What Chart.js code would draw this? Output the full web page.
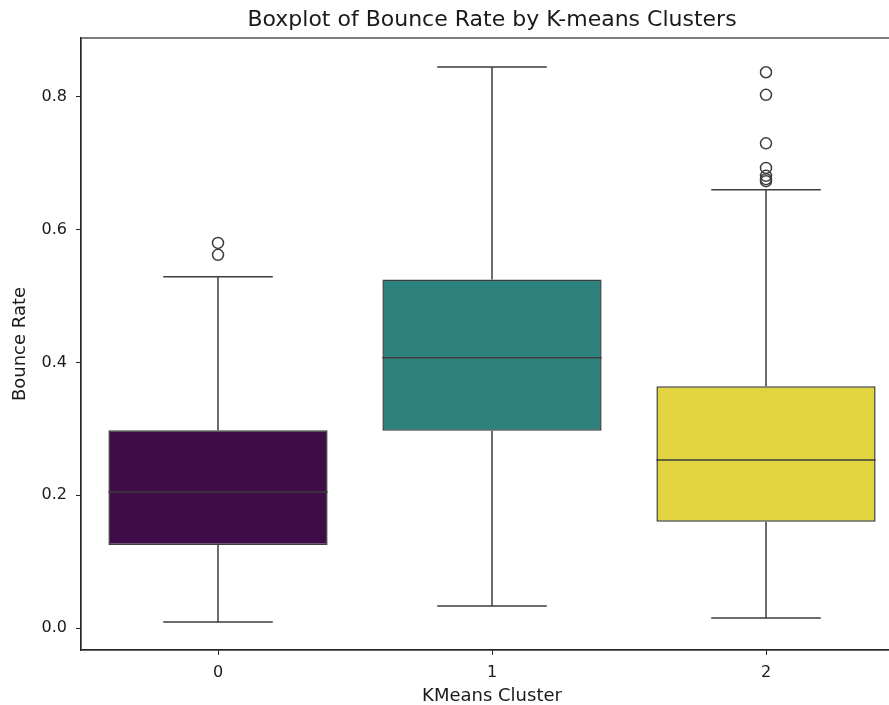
<!DOCTYPE html>
<html>
<head>
<meta charset="utf-8">
<script src="https://cdn.jsdelivr.net/npm/chart.js@4/dist/chart.umd.min.js"></script>
<style>
  html, body { margin: 0; padding: 0; background: #fff; overflow: hidden; }
  #wrap { width: 984px; height: 705px; }
</style>
</head>
<body>
<div id="wrap"><canvas id="c" width="984" height="705"></canvas></div>
<script>
// Bounce rate distribution per K-means cluster (box plot summary statistics)
const clusters = ['0', '1', '2'];
const q1 = [0.125, 0.297, 0.160];
const median = [0.205, 0.407, 0.253];
const q3 = [0.298, 0.525, 0.364];
const whiskerLow = [0.009, 0.033, 0.015];
const whiskerHigh = [0.529, 0.845, 0.660];
const outliers0 = [0.580, 0.562];
const outliers1 = [];
const outliers2 = [0.837, 0.803, 0.730, 0.693, 0.681, 0.676, 0.673];
const yTicks = [0.0, 0.2, 0.4, 0.6, 0.8];

const boxColors = ['#3f0c48', '#2e827e', '#e2d340'];
const lineColor = '#3d3d3d';
const axisColor = '#262626';
const fontFamily = "'DejaVu Sans', sans-serif";

const outlierPoints = [];
[outliers0, outliers1, outliers2].forEach((list, i) => {
  list.forEach(v => outlierPoints.push({ x: clusters[i], y: v }));
});

// whiskers, caps, medians and the frame drawn through the chart's scales
const boxExtras = {
  id: 'boxExtras',
  beforeDatasetsDraw(chart) {
    const { ctx, scales: { x, y } } = chart;
    const meta = chart.getDatasetMeta(0);
    ctx.save();
    ctx.strokeStyle = lineColor;
    ctx.lineWidth = 1.5;
    clusters.forEach((c, i) => {
      const cx = x.getPixelForValue(i);
      const half = meta.data[i].width / 4;
      const yLo = y.getPixelForValue(whiskerLow[i]);
      const yHi = y.getPixelForValue(whiskerHigh[i]);
      const yQ1 = y.getPixelForValue(q1[i]);
      const yQ3 = y.getPixelForValue(q3[i]);
      ctx.beginPath();
      ctx.moveTo(cx, yQ1); ctx.lineTo(cx, yLo);
      ctx.moveTo(cx, yQ3); ctx.lineTo(cx, yHi);
      ctx.moveTo(cx - half, yLo); ctx.lineTo(cx + half, yLo);
      ctx.moveTo(cx - half, yHi); ctx.lineTo(cx + half, yHi);
      ctx.stroke();
    });
    ctx.restore();
  },
  afterDatasetsDraw(chart) {
    const { ctx, scales: { x, y } } = chart;
    const meta = chart.getDatasetMeta(0);
    ctx.save();
    ctx.strokeStyle = lineColor;
    ctx.lineWidth = 1.5;
    clusters.forEach((c, i) => {
      const el = meta.data[i];
      const cx = x.getPixelForValue(i);
      const ym = y.getPixelForValue(median[i]);
      ctx.beginPath();
      ctx.moveTo(cx - el.width / 2, ym);
      ctx.lineTo(cx + el.width / 2, ym);
      ctx.stroke();
    });
    const a = chart.chartArea;
    ctx.strokeStyle = axisColor;
    ctx.lineWidth = 1.2;
    ctx.strokeRect(a.left, a.top, a.right - a.left, a.bottom - a.top);
    ctx.restore();
  }
};

new Chart(document.getElementById('c'), {
  data: {
    labels: clusters,
    datasets: [
      {
        type: 'bar',
        data: clusters.map((c, i) => [q1[i], q3[i]]),
        backgroundColor: boxColors,
        borderColor: lineColor,
        borderWidth: 1.5,
        borderSkipped: false,
        categoryPercentage: 0.8,
        barPercentage: 1.0,
        order: 2
      },
      {
        type: 'line',
        data: outlierPoints,
        showLine: false,
        pointStyle: 'circle',
        pointRadius: 5.5,
        pointBackgroundColor: 'rgba(0,0,0,0)',
        pointBorderColor: lineColor,
        pointBorderWidth: 1.5,
        order: 1
      }
    ]
  },
  options: {
    responsive: false,
    animation: false,
    layout: { padding: 0 },
    plugins: {
      legend: { display: false },
      tooltip: { enabled: false },
      title: {
        display: true,
        text: 'Boxplot of Bounce Rate by K-means Clusters',
        color: '#1a1a1a',
        font: { family: fontFamily, size: 22, weight: 'normal', lineHeight: 1.2 },
        padding: { top: 7, bottom: 4.6 }
      }
    },
    scales: {
      x: {
        type: 'category',
        offset: true,
        grid: { display: true, offset: false, drawOnChartArea: false, drawTicks: true, tickLength: 5, color: axisColor },
        border: { display: true, color: axisColor, width: 1.2 },
        ticks: { color: '#1a1a1a', font: { family: fontFamily, size: 16 }, padding: 8, maxRotation: 0 },
        title: { display: true, text: 'KMeans Cluster', color: '#1a1a1a', font: { family: fontFamily, size: 18, lineHeight: 1 }, padding: { top: 0, bottom: 0 } },
        afterFit(scale) { scale.height = 55; }
      },
      y: {
        type: 'linear',
        min: -0.0331,
        max: 0.8886,
        afterBuildTicks(scale) { scale.ticks = yTicks.map(v => ({ value: v })); },
        grid: { display: true, drawOnChartArea: false, drawTicks: true, tickLength: 5, color: axisColor },
        border: { display: true, color: axisColor, width: 1.2 },
        ticks: { color: '#1a1a1a', font: { family: fontFamily, size: 16 }, padding: 9, callback: v => Number(v).toFixed(1) },
        title: { display: true, text: 'Bounce Rate', color: '#1a1a1a', font: { family: fontFamily, size: 18, lineHeight: 1 }, padding: { top: 11 } },
        afterFit(scale) { scale.width = 81; }
      },
      // empty right-hand margin so the title centres over the plot area
      yRight: {
        type: 'linear',
        position: 'right',
        display: true,
        grid: { display: false },
        ticks: { display: false },
        border: { display: false },
        afterFit(scale) { scale.width = 81; }
      }
    }
  },
  plugins: [boxExtras]
});
</script>
</body>
</html>
